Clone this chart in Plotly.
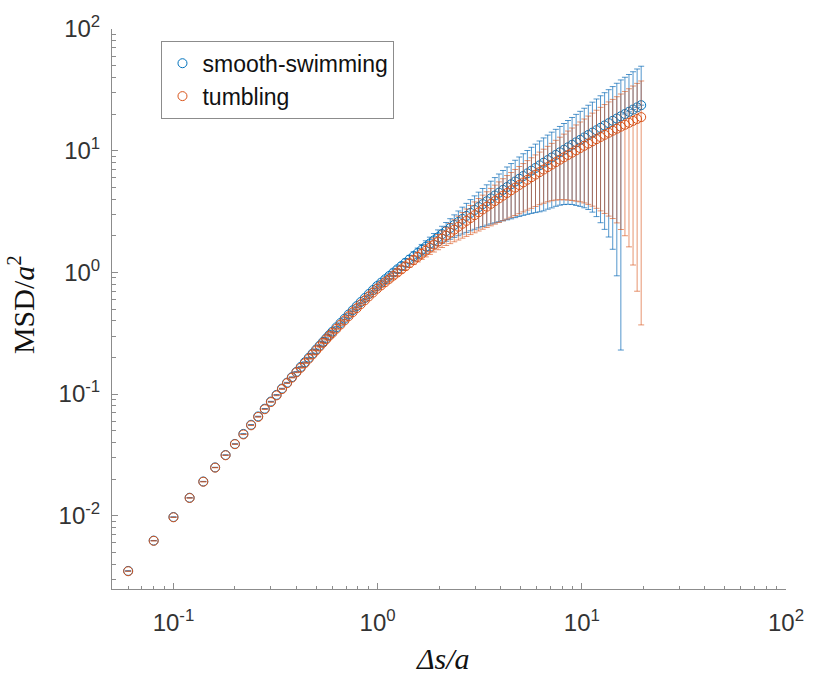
import plotly.graph_objects as go

# ---------------- data ----------------
ds = [0.06, 0.08, 0.10, 0.12, 0.14, 0.16, 0.18, 0.20, 0.22, 0.24, 0.26, 0.28, 0.30, 0.32,
      0.34, 0.36, 0.38, 0.40, 0.42, 0.44, 0.46, 0.48, 0.50, 0.52, 0.54, 0.56, 0.58,
      0.600, 0.628, 0.658, 0.689, 0.721, 0.755, 0.790, 0.827, 0.866, 0.906, 0.949, 0.993,
      1.040, 1.089, 1.140, 1.193, 1.249, 1.308, 1.369, 1.433, 1.501, 1.571, 1.644, 1.722,
      1.803, 1.887, 1.976, 2.068, 2.165, 2.267, 2.373, 2.485, 2.600, 2.722, 2.850, 2.984,
      3.124, 3.270, 3.423, 3.584, 3.752, 3.928, 4.111, 4.304, 4.506, 4.717, 4.938, 5.170,
      5.412, 5.666, 5.932, 6.210, 6.501, 6.806, 7.125, 7.459, 7.809, 8.175, 8.558, 8.960,
      9.380, 9.820, 10.28, 10.76, 11.27, 11.80, 12.35, 12.93, 13.54, 14.17, 14.84, 15.53,
      16.26, 17.02, 17.82, 18.66, 19.53]

msd_smooth = [0.00352, 0.00625, 0.00976, 0.01406, 0.01912, 0.02496, 0.03156, 0.03892, 0.04704,
              0.0559, 0.0655, 0.0758, 0.0868, 0.0985, 0.1109, 0.1240, 0.1377, 0.1521, 0.1670,
              0.1825, 0.1986, 0.2153, 0.2324, 0.2501, 0.2683, 0.2869, 0.3059,
              0.3256, 0.3535, 0.3837, 0.4161, 0.4509, 0.4882, 0.5281, 0.5706, 0.6162, 0.6646,
              0.7164, 0.7713, 0.8236, 0.8778, 0.9352, 0.9959, 1.0603, 1.1283, 1.2003, 1.2764,
              1.3571, 1.4421, 1.532, 1.6272, 1.7277, 1.8333, 1.9448, 2.0624, 2.1859, 2.3164,
              2.4536, 2.5981, 2.7502, 2.911, 3.0793, 3.2563, 3.4422, 3.6371, 3.8419, 4.0566,
              4.2817, 4.5177, 4.7651, 5.0245, 5.2962, 5.5806, 5.8781, 6.1893, 6.5144, 6.8543,
              7.2095, 7.5806, 7.9659, 8.3695, 8.7938, 9.2334, 9.6899, 10.166, 10.662, 11.178,
              11.715, 12.274, 12.855, 13.458, 14.085, 14.735, 15.41, 16.111, 16.838, 17.591,
              18.371, 19.18, 20.017, 20.882, 21.777, 22.702, 23.658]

err_smooth = [0.000007, 0.0000125, 0.0000195, 0.000028, 0.000038, 0.00005, 0.000063, 0.000078,
              0.000188, 0.000224, 0.000262, 0.000303, 0.000347, 0.00059, 0.000665, 0.000744,
              0.000826, 0.000913, 0.0015, 0.00164, 0.00179, 0.00194, 0.00209, 0.003, 0.00322,
              0.00344, 0.00367,
              0.00505, 0.00566, 0.00671, 0.00791, 0.00947, 0.01123, 0.0132, 0.01541, 0.01849,
              0.02193, 0.02579, 0.03085, 0.03541, 0.04126, 0.0477, 0.05477, 0.06256, 0.07447,
              0.08762, 0.1021, 0.1194, 0.1413, 0.1639, 0.1904, 0.2194, 0.2512, 0.2878, 0.33,
              0.3825, 0.4447, 0.5153, 0.5976, 0.6848, 0.7801, 0.8838, 0.9964, 1.1187, 1.2548,
              1.3985, 1.5577, 1.7298, 1.9155, 2.1109, 2.3213, 2.5422, 2.7624, 2.9978, 3.2494,
              3.5178, 3.8041, 4.1094, 4.4347, 4.7636, 5.0635, 5.4082, 5.7432, 6.124, 6.5571,
              7.0369, 7.5675, 8.1654, 8.7882, 9.4613, 10.174, 10.958, 11.862, 12.852, 13.855,
              14.885, 16.043, 17.434, 18.95, 20.117, 21.404, 22.757, 24.223, 25.787]

msd_tumble = [0.0035, 0.00622, 0.00971, 0.01399, 0.01902, 0.02484, 0.0314, 0.03873, 0.04657,
              0.05534, 0.06485, 0.07504, 0.08593, 0.09752, 0.1098, 0.1228, 0.1363, 0.1506,
              0.1642, 0.1794, 0.1952, 0.2116, 0.2284, 0.2458, 0.2637, 0.282, 0.3007,
              0.3175, 0.344, 0.3724, 0.4034, 0.4361, 0.471, 0.5082, 0.5478, 0.5901, 0.6348,
              0.6826, 0.7332, 0.7813, 0.831, 0.8833, 0.9384, 0.9968, 1.0583, 1.1234, 1.1918,
              1.2643, 1.3403, 1.4212, 1.5068, 1.5969, 1.6914, 1.791, 1.8958, 2.0056, 2.1214,
              2.2428, 2.3708, 2.5054, 2.6476, 2.7963, 2.9522, 3.1159, 3.2865, 3.4662, 3.6542,
              3.8505, 4.0564, 4.2705, 4.4939, 4.7269, 4.9706, 5.2245, 5.4899, 5.7665, 6.0544,
              6.3552, 6.6687, 6.9925, 7.33, 7.684, 8.0497, 8.4283, 8.816, 9.2162, 9.631,
              10.062, 10.509, 10.967, 11.439, 11.93, 12.435, 12.957, 13.493, 14.031, 14.585,
              15.154, 15.743, 16.34, 16.952, 17.576, 18.223, 18.879]

err_tumble = [0.000007, 0.0000124, 0.0000194, 0.000028, 0.000038, 0.00005, 0.000063, 0.000077,
              0.000186, 0.000221, 0.000259, 0.0003, 0.000344, 0.000585, 0.000659, 0.000737,
              0.000818, 0.000904, 0.00148, 0.00161, 0.00176, 0.0019, 0.00206, 0.00295, 0.00316,
              0.00338, 0.00361,
              0.00476, 0.0055, 0.00633, 0.00726, 0.00872, 0.01036, 0.0122, 0.01424, 0.01711,
              0.02031, 0.02389, 0.02786, 0.03203, 0.03656, 0.0424, 0.0488, 0.05682, 0.06667,
              0.07751, 0.09058, 0.1049, 0.122, 0.1421, 0.1657, 0.1916, 0.2216, 0.2561, 0.2957,
              0.343, 0.3988, 0.4598, 0.5263, 0.5963, 0.6725, 0.7522, 0.8384, 0.9285, 1.0254,
              1.13, 1.2424, 1.3592, 1.4846, 1.6142, 1.7526, 1.8908, 2.0379, 2.1891, 2.3497,
              2.52, 2.6942, 2.8751, 3.0689, 3.2928, 3.5301, 3.8036, 4.1198, 4.4779, 4.8664,
              5.2864, 5.7314, 6.2123, 6.7089, 7.247, 7.8186, 8.4297, 9.0751, 9.7566, 10.444,
              11.131, 11.815, 12.604, 13.493, 14.34, 15.332, 16.427, 17.523, 18.509]

series_names = ["smooth-swimming", "tumbling"]

x_major = [0.1, 1, 10, 100]
x_major_text = ["10<sup>-1</sup>", "10<sup>0</sup>", "10<sup>1</sup>", "10<sup>2</sup>"]
y_major = [0.01, 0.1, 1, 10, 100]
y_major_text = ["10<sup>-2</sup>", "10<sup>-1</sup>", "10<sup>0</sup>", "10<sup>1</sup>", "10<sup>2</sup>"]
x_minor = [0.06, 0.07, 0.08, 0.09, 0.2, 0.3, 0.4, 0.5, 0.6, 0.7, 0.8, 0.9,
           2, 3, 4, 5, 6, 7, 8, 9, 20, 30, 40, 50, 60, 70, 80, 90]
y_minor = [0.003, 0.004, 0.005, 0.006, 0.007, 0.008, 0.009,
           0.02, 0.03, 0.04, 0.05, 0.06, 0.07, 0.08, 0.09,
           0.2, 0.3, 0.4, 0.5, 0.6, 0.7, 0.8, 0.9,
           2, 3, 4, 5, 6, 7, 8, 9, 20, 30, 40, 50, 60, 70, 80, 90]

# ---------------- styling ----------------
BLUE = "#0072BD"
ORANGE = "#D95319"
BLUE_BAR = "rgba(0,100,180,0.68)"
ORANGE_BAR = "rgba(217,83,25,0.62)"
AXIS = "#8c8c8c"
SANS = "Liberation Sans, Arial, Helvetica, sans-serif"
TICKFONT = dict(family=SANS, size=24, color="#333333")
SERIF = "Liberation Serif, Times New Roman, serif"


def lower_errors(vals, errs):
    # on a log axis a bar reaching zero or below is not drawn (as in the original)
    return [e if e < v else 0.0 for v, e in zip(vals, errs)]


fig = go.Figure()
for name, vals, errs, col, barcol in [
    (series_names[0], msd_smooth, err_smooth, BLUE, BLUE_BAR),
    (series_names[1], msd_tumble, err_tumble, ORANGE, ORANGE_BAR),
]:
    fig.add_trace(go.Scatter(
        x=ds, y=vals, mode="markers", name=name,
        marker=dict(symbol="circle-open", size=9, color=col, line=dict(width=1, color=col)),
        error_y=dict(type="data", symmetric=False, array=errs,
                     arrayminus=lower_errors(vals, errs),
                     color=barcol, thickness=1, width=3),
    ))

fig.update_layout(
    width=816, height=674,
    margin=dict(l=112, r=23, t=19, b=85),
    paper_bgcolor="white", plot_bgcolor="white",
    showlegend=True,
    legend=dict(x=0.0734, y=0.979, xanchor="left", yanchor="top",
                bgcolor="white", bordercolor="#8c8c8c", borderwidth=1,
                tracegroupgap=0,
                font=dict(family=SANS, size=23, color="#111111")),
    xaxis=dict(type="log", range=[-1.30103, 2], tickmode="array",
               tickvals=x_major, ticktext=x_major_text,
               ticks="inside", ticklen=6, tickwidth=1, tickcolor=AXIS,
               ticklabelstandoff=12,
               showline=True, linecolor=AXIS, linewidth=1, mirror=False,
               showgrid=False, zeroline=False, tickfont=TICKFONT,
               minor=dict(tickmode="array", tickvals=x_minor, ticks="inside",
                          ticklen=3.5, tickwidth=1, tickcolor=AXIS, showgrid=False)),
    yaxis=dict(type="log", range=[-2.60206, 2], tickmode="array",
               tickvals=y_major, ticktext=y_major_text,
               ticks="inside", ticklen=6, tickwidth=1, tickcolor=AXIS,
               ticklabelstandoff=6,
               showline=True, linecolor=AXIS, linewidth=1, mirror=False,
               showgrid=False, zeroline=False, tickfont=TICKFONT,
               minor=dict(tickmode="array", tickvals=y_minor, ticks="inside",
                          ticklen=3.5, tickwidth=1, tickcolor=AXIS, showgrid=False)),
    annotations=[
        dict(text="<i>Δs/a</i>", xref="paper", yref="paper", x=0.4905, y=-0.1246,
             xanchor="center", yanchor="middle", showarrow=False,
             font=dict(family=SERIF, size=30, color="#111111")),
        dict(text="MSD/<i>a</i><sup>2</sup>", xref="paper", yref="paper", x=-0.135, y=0.507,
             xanchor="center", yanchor="middle", showarrow=False, textangle=-90,
             font=dict(family=SERIF, size=30, color="#111111")),
    ],
)

fig.write_html("out.html")
